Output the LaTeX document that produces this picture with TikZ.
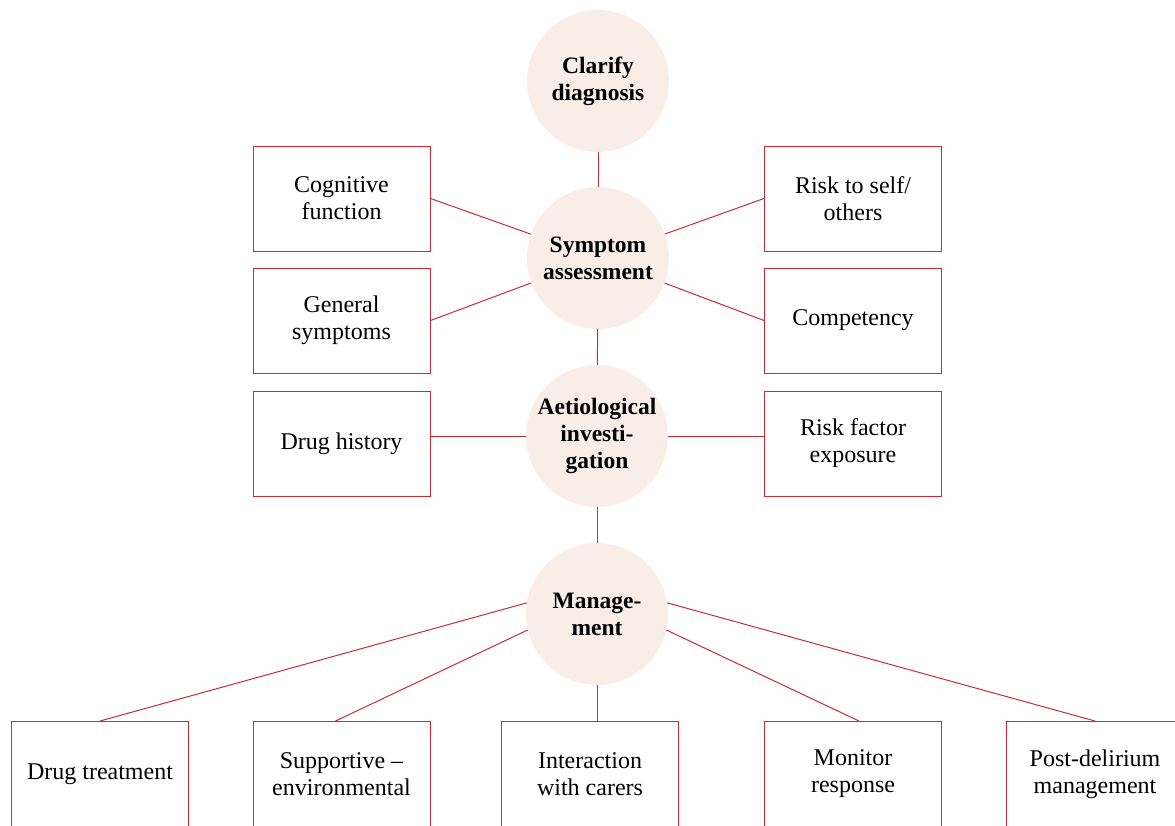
\documentclass[tikz,border=0pt]{standalone}
\usepackage{fontspec}
\setmainfont{Liberation Serif}
\definecolor{linered}{RGB}{200,45,55}
\definecolor{circfill}{RGB}{249,237,232}
\begin{document}
\begin{tikzpicture}[x=1pt,y=-1pt,
  box/.style={draw=linered, line width=1pt, minimum width=177pt, minimum height=105pt, align=center, inner sep=0pt, font=\fontsize{24}{27}\selectfont},
  hub/.style={circle, fill=circfill, minimum size=142pt, inner sep=0pt, align=center, font=\bfseries\fontsize{23.5}{27}\selectfont},
  conn/.style={draw=linered, line width=1pt}]
\useasboundingbox (0,0) rectangle (1175,825);
\clip (0,0) rectangle (1175,825);
% hubs
\node[hub] (clar) at (598,81) {Clarify\\diagnosis};
\node[hub] (sym) at (598,258) {Symptom\\assessment};
\node[hub] (aet) at (597,436) {Aetiological\\investi-\\gation};
\node[hub] (man) at (597,614) {Manage-\\ment};
% boxes
\node[box] (cog) at (341.5,198.5) {Cognitive\\function};
\node[box] (risk) at (853,198.5) {Risk to self/\\others};
\node[box] (gen) at (341.5,320.5) {General\\symptoms};
\node[box] (comp) at (853,320.5) {Competency};
\node[box] (drugh) at (341.5,443.5) {Drug history};
\node[box] (rfe) at (853,443.5) {Risk factor\\exposure};
\node[box] (drugt) at (100,774) {Drug treatment};
\node[box] (supp) at (341.5,774) {Supportive --\\environmental};
\node[box] (inter) at (590,774) {Interaction\\with carers};
\node[box] (mon) at (853,774) {Monitor\\response};
\node[box] (post) at (1095,774) {Post-delirium\\management};
% connectors
\draw[conn] (clar) -- (sym);
\draw[conn] (sym) -- (aet);
\draw[conn] (aet) -- (man);
\draw[conn] (cog.east) -- (sym);
\draw[conn] (gen.east) -- (sym);
\draw[conn] (risk.west) -- (sym);
\draw[conn] (comp.west) -- (sym);
\draw[conn] (aet.west) -- (aet.west -| drugh.east);
\draw[conn] (aet.east) -- (aet.east -| rfe.west);
\draw[conn] (man.171) -- (drugt.north);
\draw[conn] (man.193) -- ([xshift=-6pt]supp.north);
\draw[conn] (man.south) -- (man.south |- inter.north);
\draw[conn] (man.347) -- ([xshift=6pt]mon.north);
\draw[conn] (man.9) -- (post.north);
\end{tikzpicture}
\end{document}
